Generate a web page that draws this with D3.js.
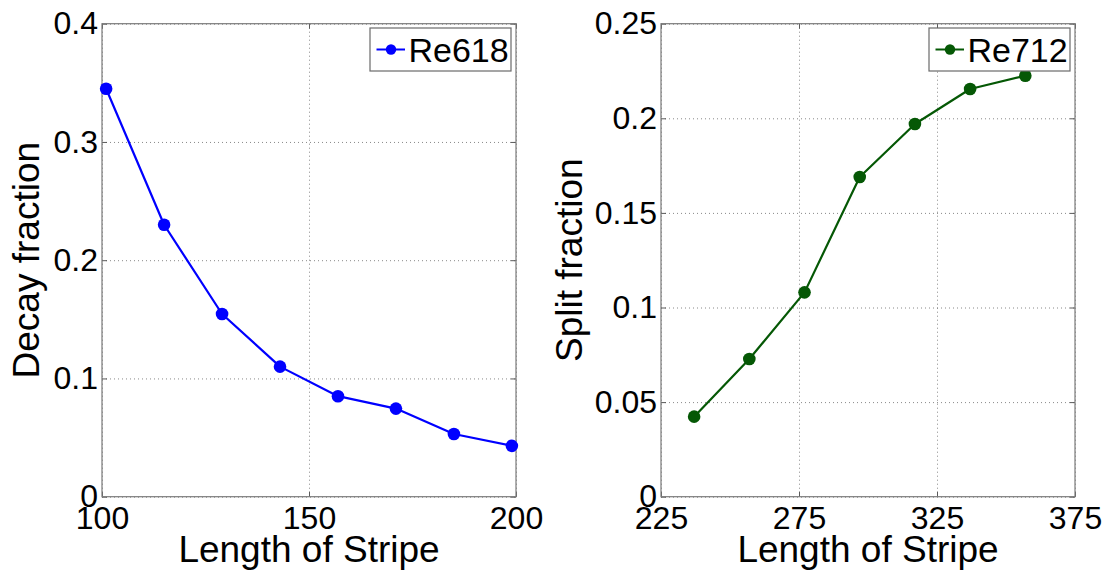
<!DOCTYPE html>
<html>
<head>
<meta charset="utf-8">
<script src="https://cdn.jsdelivr.net/npm/d3@7"></script>
<style>
  html, body { margin: 0; padding: 0; background: #fff; }
  svg { display: block; }
  text { font-family: "Liberation Sans", Arial, Helvetica, sans-serif; fill: #000; }
</style>
</head>
<body>
<svg id="chart" width="1108" height="572"></svg>
<script>
// ---- data ----
const decayLengths = [101, 115, 129, 143, 157, 171, 185, 199];
const decayFraction = [0.345, 0.230, 0.1545, 0.110, 0.085, 0.0745, 0.053, 0.043];
const splitLengths = [237, 257, 277, 297, 317, 337, 357];
const splitFraction = [0.0423, 0.0728, 0.108, 0.169, 0.197, 0.2155, 0.2225];
const leftXTicks = [100, 150, 200];
const leftYTicks = [0, 0.1, 0.2, 0.3, 0.4];
const rightXTicks = [225, 275, 325, 375];
const rightYTicks = [0, 0.05, 0.1, 0.15, 0.2, 0.25];
const seriesNames = ["Re618", "Re712"];
const xTitle = "Length of Stripe";
const yTitles = ["Decay fraction", "Split fraction"];

const svg = d3.select("#chart");
const plotTop = 23.7, plotBottom = 496.7;

const panels = [
  { x0: 102, x1: 516, xDom: [100, 200], yDom: [0, 0.4], xs: decayLengths, ys: decayFraction,
    xt: leftXTicks, yt: leftYTicks, color: "#0000ff", name: seriesNames[0], ytitle: yTitles[0], ytitleX: 39 },
  { x0: 661, x1: 1075, xDom: [225, 375], yDom: [0, 0.25], xs: splitLengths, ys: splitFraction,
    xt: rightXTicks, yt: rightYTicks, color: "#055805", name: seriesNames[1], ytitle: yTitles[1], ytitleX: 582 }
];

const fmt = d => String(+d.toFixed(2));

panels.forEach(p => {
  const x = d3.scaleLinear().domain(p.xDom).range([p.x0, p.x1]);
  const y = d3.scaleLinear().domain(p.yDom).range([plotBottom, plotTop]);
  const g = svg.append("g");

  g.append("rect").attr("x", p.x0).attr("y", plotTop).attr("width", p.x1 - p.x0).attr("height", plotBottom - plotTop)
    .attr("fill", "#fff");

  // grid lines (dotted)
  const gridY = g.append("g").attr("transform", `translate(${p.x0},0)`)
    .call(d3.axisLeft(y).tickValues(p.yt).tickSize(-(p.x1 - p.x0)).tickFormat(""));
  gridY.select(".domain").remove();
  gridY.selectAll("line").attr("stroke", "#6a6a6a").attr("stroke-width", 0.8).attr("stroke-dasharray", "1,3");
  const gridX = g.append("g").attr("transform", `translate(0,${plotBottom})`)
    .call(d3.axisBottom(x).tickValues(p.xt).tickSize(-(plotBottom - plotTop)).tickFormat(""));
  gridX.select(".domain").remove();
  gridX.selectAll("line").attr("stroke", "#6a6a6a").attr("stroke-width", 0.8).attr("stroke-dasharray", "1,3");

  // inward ticks on all sides
  const tl = 5;
  const axL = g.append("g").attr("transform", `translate(${p.x0},0)`)
    .call(d3.axisRight(y).tickValues(p.yt).tickSize(tl).tickFormat(""));
  const axR = g.append("g").attr("transform", `translate(${p.x1},0)`)
    .call(d3.axisLeft(y).tickValues(p.yt).tickSize(tl).tickFormat(""));
  const axB = g.append("g").attr("transform", `translate(0,${plotBottom})`)
    .call(d3.axisTop(x).tickValues(p.xt).tickSize(tl).tickFormat(""));
  const axT = g.append("g").attr("transform", `translate(0,${plotTop})`)
    .call(d3.axisBottom(x).tickValues(p.xt).tickSize(tl).tickFormat(""));
  [axL, axR, axB, axT].forEach(a => {
    a.select(".domain").remove();
    a.selectAll("line").attr("stroke", "#5a5a5a").attr("stroke-width", 1);
  });

  // frame
  g.append("rect").attr("x", p.x0).attr("y", plotTop).attr("width", p.x1 - p.x0).attr("height", plotBottom - plotTop)
    .attr("fill", "none").attr("stroke", "#7a7a7a").attr("stroke-width", 1.2);

  // tick labels
  const labY = g.append("g").attr("transform", `translate(${p.x0 - 4},0)`)
    .call(d3.axisLeft(y).tickValues(p.yt).tickSize(0).tickPadding(0).tickFormat(fmt));
  labY.select(".domain").remove();
  labY.selectAll("text").attr("font-size", 32).attr("fill", "#000")
    .attr("font-family", '"Liberation Sans", Arial, sans-serif');
  const labX = g.append("g").attr("transform", `translate(0,${plotBottom})`)
    .call(d3.axisBottom(x).tickValues(p.xt).tickSize(0).tickPadding(10).tickFormat(d3.format("d")));
  labX.select(".domain").remove();
  labX.selectAll("text").attr("font-size", 32).attr("fill", "#000")
    .attr("font-family", '"Liberation Sans", Arial, sans-serif');

  // series
  const pts = p.xs.map((v, i) => [v, p.ys[i]]);
  const line = d3.line().x(d => x(d[0])).y(d => y(d[1]));
  g.append("path").datum(pts).attr("d", line).attr("fill", "none")
    .attr("stroke", p.color).attr("stroke-width", 2.2).attr("stroke-linejoin", "round");
  g.selectAll("circle.pt").data(pts).enter().append("circle").attr("class", "pt")
    .attr("cx", d => x(d[0])).attr("cy", d => y(d[1])).attr("r", 6.3).attr("fill", p.color);

  // axis titles
  g.append("text").attr("x", (p.x0 + p.x1) / 2).attr("y", 561.5).attr("text-anchor", "middle")
    .attr("font-size", 37).text(xTitle);
  g.append("text").attr("transform", `translate(${p.ytitleX},${(plotTop + plotBottom) / 2}) rotate(-90)`)
    .attr("text-anchor", "middle").attr("font-size", 37).text(p.ytitle);

  // legend
  const lw = 141, lh = 43;
  const lx = p.x1 - 5 - lw, ly = 28;
  g.append("rect").attr("x", lx).attr("y", ly).attr("width", lw).attr("height", lh)
    .attr("fill", "#fff").attr("stroke", "#6a6a6a").attr("stroke-width", 1.2);
  g.append("line").attr("x1", lx + 6.5).attr("x2", lx + 35).attr("y1", ly + lh / 2).attr("y2", ly + lh / 2)
    .attr("stroke", p.color).attr("stroke-width", 2);
  g.append("circle").attr("cx", lx + 21).attr("cy", ly + lh / 2).attr("r", 5.2).attr("fill", p.color);
  g.append("text").attr("x", lx + 38.5).attr("y", ly + 33.5).attr("font-size", 34).text(p.name);
});
</script>
</body>
</html>
